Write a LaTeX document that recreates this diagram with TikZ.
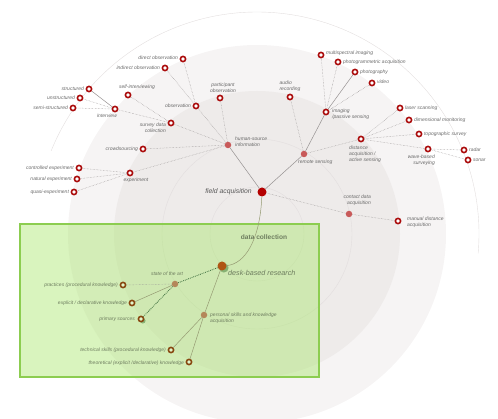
\documentclass[tikz,border=0pt]{standalone}
\usepackage{fontspec}
\setmainfont{Liberation Sans}
\usepackage{tikz}
\usetikzlibrary{positioning, shadows}
\usepackage{color}

\definecolor{ringred}{RGB}{170,10,10}
\definecolor{hubred}{RGB}{200,90,90}
\definecolor{corered}{RGB}{180,0,0}
\definecolor{txtgray}{RGB}{105,105,105}
\definecolor{linegray}{RGB}{150,145,145}
\definecolor{deskbrown}{RGB}{175,85,20}
\definecolor{tanbrown}{RGB}{180,135,90}
\definecolor{ringbrown}{RGB}{135,70,15}
\definecolor{boxgreen}{RGB}{140,205,80}
\definecolor{boxfill}{RGB}{170,230,110}
\definecolor{greentxt}{RGB}{110,125,95}
\definecolor{greenline}{RGB}{150,155,115}
\definecolor{ringout}{RGB}{246,244,244}
\definecolor{ringmid}{RGB}{238,235,234}
\definecolor{ringline}{RGB}{226,222,222}

\begin{document}
\begin{tikzpicture}[x=1pt,y=-1pt,font=\fontsize{5}{6}\selectfont\itshape]
\tikzstyle{ring} = [circle, draw=ringred, line width=1.6pt, fill=white, inner sep=0pt, minimum size=5.2pt]
\tikzstyle{bring} = [ring, draw=ringbrown, fill=boxfill!35]
\tikzstyle{hub} = [circle, fill=hubred, inner sep=0pt, minimum size=6.5pt]
\tikzstyle{core} = [circle, fill=corered, inner sep=0pt, minimum size=9pt]
\tikzstyle{deskhub} = [circle, fill=deskbrown, inner sep=0pt, minimum size=9pt]
\tikzstyle{deskdot} = [circle, fill=tanbrown, inner sep=0pt, minimum size=6.5pt]
\tikzstyle{txt} = [text=txtgray, inner sep=1pt]
\tikzstyle{gtxt} = [text=greentxt, inner sep=1pt]
\tikzstyle{link} = [draw=linegray, line width=0.45pt, densely dotted]
\tikzstyle{stem} = [draw=linegray, line width=0.5pt]
\tikzstyle{glink} = [draw=greenline, line width=0.5pt]
\tikzstyle{dlink} = [draw=green!25!black!75, line width=0.8pt, densely dotted]

\useasboundingbox (0,0) rectangle (498,419);

% background rings
\fill[ringout] (257,234) circle (189pt);
\draw[ringline] (257,234) ++(-5:222pt) arc[start angle=-5, end angle=158, radius=222pt];
\fill[ringmid] (257,234) circle (143pt);
\draw[ringline] (257,234) circle (95pt);
\draw[ringline] (257,234) circle (47pt);

% data collection box
\draw[boxgreen, line width=2pt, fill=boxfill, fill opacity=0.45] (20,224) rectangle (319,377);

% hubs
\node (fa) at (262,192) [core] {};
\node (hsi) at (228,145) [hub] {};
\node (rs) at (304,154) [hub] {};
\node (cda) at (349,214) [hub] {};
\node (dbr) at (222,266) [deskhub, circular drop shadow={fill=green!30!black, opacity=0.35}] {};
\node (sota) at (175,284) [deskdot] {};
\node (psk) at (204,315) [deskdot] {};

% human-source side
\node (obs) at (196,106) [ring] {};
\node (dobs) at (183,59) [ring] {};
\node (iobs) at (165,68) [ring] {};
\node (po) at (220,98) [ring] {};
\node (sdc) at (171,123) [ring] {};
\node (si) at (128,95) [ring] {};
\node (iv) at (115,109) [ring] {};
\node (st) at (89,89) [ring] {};
\node (ust) at (80,98) [ring] {};
\node (sst) at (73,108) [ring] {};
\node (cs) at (143,149) [ring] {};
\node (exp) at (130,173) [ring] {};
\node (ce) at (79,168) [ring] {};
\node (ne) at (77,179) [ring] {};
\node (qe) at (74,192) [ring] {};

% remote sensing side
\node (ar) at (290,97) [ring] {};
\node (img) at (326,112) [ring] {};
\node (msi) at (321,55) [ring] {};
\node (pga) at (338,62) [ring] {};
\node (pho) at (355,72) [ring] {};
\node (vid) at (372,83) [ring] {};
\node (dist) at (361,139) [ring] {};
\node (ls) at (400,108) [ring] {};
\node (dm) at (409,120) [ring] {};
\node (ts) at (419,134) [ring] {};
\node (wbs) at (428,149) [ring] {};
\node (rad) at (464,150) [ring] {};
\node (son) at (468,160) [ring] {};
\node (mda) at (398,221) [ring] {};

% desk-based side
\node (prac) at (123,285) [bring] {};
\node (expl) at (132,303) [bring] {};
\node (prim) at (141,319) [bring, circular drop shadow={fill=green!30!black, opacity=0.35}] {};
\node (tech) at (171,350) [bring] {};
\node (theo) at (189,362) [bring] {};

% texts
\node (fa-t) [left=2pt of fa, text=black!65, font=\fontsize{6.8}{8}\selectfont\itshape] {field acquisition};
\node (hsi-t) at (234,147.5) [txt, anchor=south west, align=left] {human-source\\information};
\node (rs-t) at (297,158.5) [txt, anchor=north west] {remote sensing};
\node (cda-t) at (372,206.5) [txt, anchor=south east, align=right] {contact data\\acquisition};
\node (obs-t) [txt, left=0.5pt of obs] {observation};
\node (dobs-t) [txt, left=0.5pt of dobs, yshift=1.5pt] {direct observation};
\node (iobs-t) [txt, left=0.5pt of iobs] {indirect observation};
\node (po-t) [txt, above=0.5pt of po, align=center, xshift=3pt] {participant\\observation};
\node (sdc-t) at (167,122) [txt, anchor=north east, align=right] {survey data\\collection};
\node (si-t) [txt, above=0.5pt of si, xshift=9pt] {self-interviewing};
\node (iv-t) [txt, below=0pt of iv, xshift=-8pt] {interview};
\node (st-t) [txt, left=0.5pt of st] {structured};
\node (ust-t) [txt, left=0.5pt of ust] {unstructured};
\node (sst-t) [txt, left=0.5pt of sst] {semi-structured};
\node (cs-t) [txt, left=0.5pt of cs] {crowdsourcing};
\node (exp-t) [txt, below=0pt of exp, xshift=6pt] {experiment};
\node (ce-t) [txt, left=0.5pt of ce] {controlled experiment};
\node (ne-t) [txt, left=0.5pt of ne] {natural experiment};
\node (qe-t) [txt, left=0.5pt of qe] {quasi-experiment};
\node (ar-t) [txt, above=0.5pt of ar, align=left] {audio\\recording};
\node (img-t) at (331,108) [txt, anchor=north west, align=left] {imaging\\/passive sensing};
\node (msi-t) [txt, right=0.5pt of msi, yshift=2pt] {multispectral imaging};
\node (pga-t) [txt, right=0.5pt of pga] {photogrammetric acquisition};
\node (pho-t) [txt, right=0.5pt of pho] {photography};
\node (vid-t) [txt, right=0.5pt of vid, yshift=1.5pt] {video};
\node (dist-t) at (348,145) [txt, anchor=north west, align=left] {distance\\acquisition /\\active sensing};
\node (ls-t) [txt, right=0.5pt of ls] {laser scanning};
\node (dm-t) [txt, right=0.5pt of dm] {dimensional monitoring};
\node (ts-t) [txt, right=0.5pt of ts] {topographic survey};
\node (wbs-t) at (436,153.5) [txt, anchor=north east, align=right] {wave-based\\surveying};
\node (rad-t) [txt, right=0.5pt of rad] {radar};
\node (son-t) [txt, right=0.5pt of son] {sonar};
\node (mda-t) at (406,216) [txt, anchor=north west, align=left] {manual distance\\acquisition};
\node (dc-t) at (264,237) [gtxt, font=\fontsize{6.6}{8}\selectfont\bfseries] {data collection};
\node (dbr-t) at (227,273) [gtxt, anchor=west, font=\fontsize{7.2}{9}\selectfont\itshape] {desk-based research};
\node (sota-t) at (167,277) [gtxt, anchor=south] {state of the art};
\node (psk-t) at (209,312) [gtxt, anchor=north west, align=left] {personal skills and knowledge\\acquisition};
\node (prac-t) [gtxt, left=0.5pt of prac] {practices (procedural knowledge)};
\node (expl-t) [gtxt, left=0.5pt of expl] {explicit / declarative knowledge};
\node (prim-t) [gtxt, left=1.5pt of prim] {primary sources};
\node (tech-t) [gtxt, left=0.5pt of tech] {technical skills (procedural knowledge)};
\node (theo-t) [gtxt, left=0.5pt of theo, yshift=-1.5pt] {theoretical (explicit /declarative) knowledge};

% connectors
\path
    (fa) edge [stem] (hsi)
         edge [stem] (rs)
         edge [link] (cda)
    (hsi) edge [link] (obs)
          edge [link] (po)
          edge [link] (sdc)
          edge [link] (cs)
          edge [link] (exp)
    (obs) edge [link] (dobs)
          edge [link] (iobs)
    (sdc) edge [link] (si)
          edge [link] (iv)
    (iv) edge [stem] (st)
         edge [link] (ust)
         edge [link] (sst)
    (exp) edge [link] (ce)
          edge [link] (ne)
          edge [link] (qe)
    (rs) edge [link] (ar)
         edge [stem] (img)
         edge [link] (dist)
    (img) edge [link] (msi)
          edge [link] (pga)
          edge [stem] (pho)
          edge [link] (vid)
    (dist) edge [link] (ls)
           edge [link] (dm)
           edge [link] (ts)
           edge [link] (wbs)
    (wbs) edge [link] (rad)
          edge [link] (son)
    (cda) edge [link] (mda);

\draw[glink] (fa) .. controls (260,240) and (245,264) .. (dbr);
\path
    (dbr) edge [dlink] (sota)
          edge [glink] (psk)
    (sota) edge [link] (prac)
           edge [glink] (expl)
           edge [dlink] (prim)
    (psk) edge [glink] (tech)
          edge [glink] (theo);

\end{tikzpicture}
\end{document}
